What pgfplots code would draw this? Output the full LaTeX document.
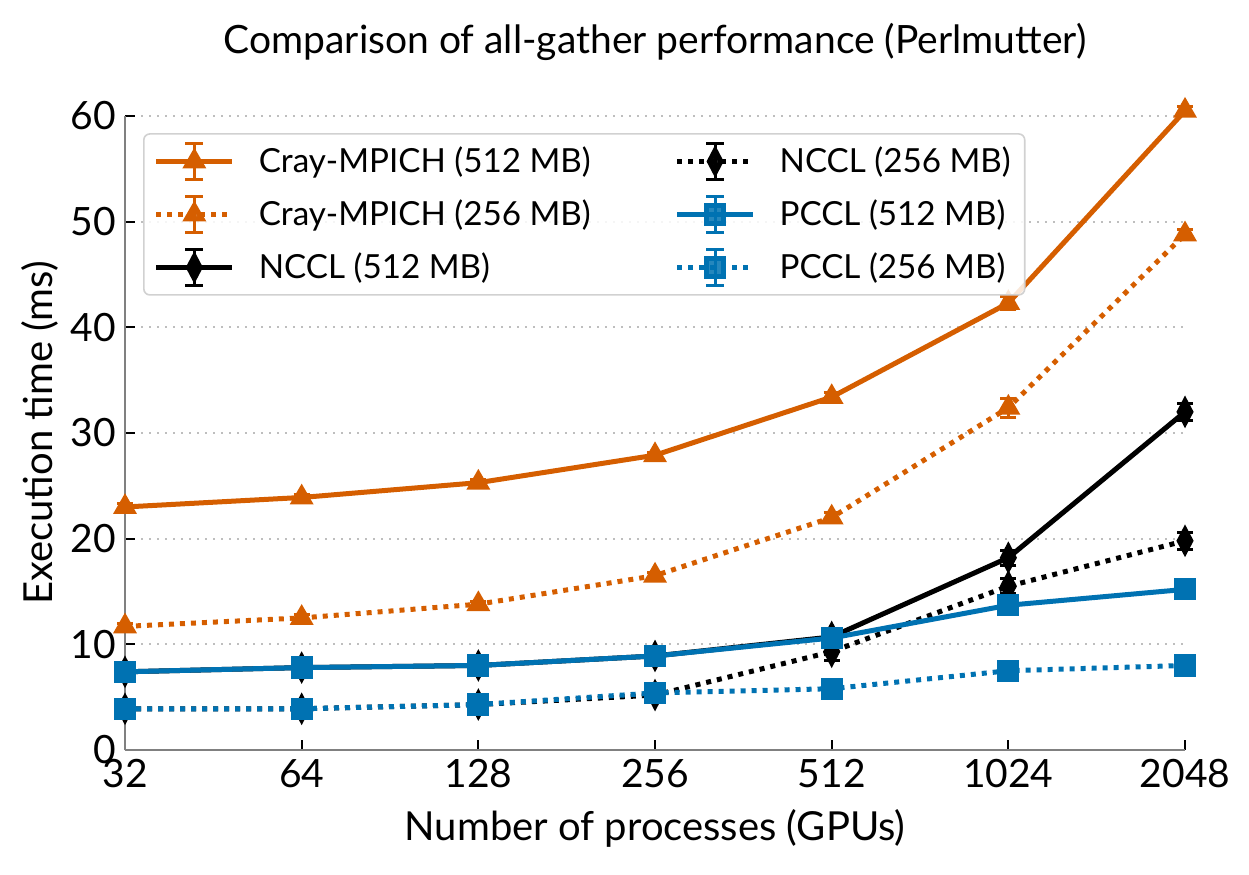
\documentclass[border=0pt]{standalone}
\usepackage{pgfplots}
\pgfplotsset{compat=1.18}
\usepackage{fontspec}
\setmainfont{Lato}
\definecolor{corange}{RGB}{213,94,0}
\definecolor{cblue}{RGB}{0,114,178}
\definecolor{cgrid}{RGB}{190,190,190}
\definecolor{cspine}{RGB}{128,128,128}
\begin{document}
\begin{tikzpicture}
\pgfplotsset{
  mylegend/.style={legend image code/.code={
    \draw[##1] (0pt,0pt) -- (38pt,0pt);
    \draw[solid,line width=1.5pt] (19pt,-9pt) -- (19pt,9pt) (14.5pt,-9pt) -- (23.5pt,-9pt) (14.5pt,9pt) -- (23.5pt,9pt);
    \draw[solid] plot coordinates {(19pt,0pt)};
  }},
  dots/.style={dash pattern=on 2.5pt off 3pt},
}
\begin{axis}[
  at={(0,0)}, anchor=south west,
  scale only axis, width=530pt, height=317pt,
  xmode=log, log basis x=2,
  xmin=32, xmax=2048, ymin=0, ymax=60,
  xtick={32,64,128,256,512,1024,2048},
  xticklabels={32,64,128,256,512,1024,2048},
  ytick={0,10,20,30,40,50,60},
  /pgf/number format/assume math mode=true,
  tick label style={font=\fontsize{19.5}{22}\selectfont, black},
  xticklabel style={yshift=-1pt},
  yticklabel style={xshift=-1pt},
  tick align=inside, major tick length=5pt,
  tick style={black, line width=1pt},
  axis x line*=bottom, axis y line*=left,
  axis line style={cspine, line width=1.2pt, -},
  ymajorgrids, grid style={cgrid, line width=1pt, dash pattern=on 1pt off 3pt},
  clip=false,
  title={Comparison of all-gather performance (Perlmutter)},
  title style={font=\fontsize{19.5}{22}\selectfont, at={(0.5,1)}, anchor=center, yshift=31pt},
  xlabel={Number of processes (GPUs)},
  ylabel={Execution time (ms)},
  label style={font=\fontsize{20}{23}\selectfont},
  xlabel style={at={(0.5,0)}, anchor=center, yshift=-39pt},
  ylabel style={at={(0,0.5)}, anchor=center, yshift=42.5pt},
  legend columns=3, transpose legend,
  legend style={at={(0.017,0.973)}, anchor=north west, font=\fontsize{16.6}{19}\selectfont,
    draw=cgrid!70, line width=0.8pt, rounded corners=3pt, fill=white, fill opacity=0.85, text opacity=1,
    inner xsep=5pt, inner ysep=4pt, row sep=7pt,
    /tikz/every odd column/.append style={column sep=10pt},
    /tikz/every even column/.append style={column sep=40pt}},
  legend cell align=left,
  mylegend,
  every axis plot/.append style={line width=2.5pt},
  error bars/error bar style={solid, line width=1.5pt},
  error bars/error mark options={rotate=90, mark size=4pt, line width=1.5pt, solid},
]
% Cray-MPICH 512
\addplot[corange, mark=triangle*, mark size=4.4pt, mark options={solid},
  error bars/.cd, y dir=both, y explicit] coordinates {
  (32,23.0) +- (0,0.3) (64,23.9) +- (0,0.3) (128,25.3) +- (0,0.3) (256,27.9) +- (0,0.3)
  (512,33.4) +- (0,0.4) (1024,42.3) +- (0,0.6) (2048,60.5) +- (0,0.4)};
\addlegendentry{Cray-MPICH (512 MB)}
% Cray-MPICH 256
\addplot[corange, dots, mark=triangle*, mark size=4.4pt, mark options={solid},
  error bars/.cd, y dir=both, y explicit] coordinates {
  (32,11.7) +- (0,0.3) (64,12.5) +- (0,0.3) (128,13.8) +- (0,0.3) (256,16.5) +- (0,0.3)
  (512,22.0) +- (0,0.5) (1024,32.4) +- (0,0.9) (2048,48.8) +- (0,0.5)};
\addlegendentry{Cray-MPICH (256 MB)}
% NCCL 512
\addplot[black, mark=diamond*, mark size=5.5pt, mark options={solid, xscale=0.7},
  error bars/.cd, y dir=both, y explicit] coordinates {
  (32,7.4) +- (0,0.7) (64,7.8) +- (0,0.8) (128,8.0) +- (0,0.7) (256,8.9) +- (0,0.7)
  (512,10.7) +- (0,0.8) (1024,18.2) +- (0,0.7) (2048,32.0) +- (0,0.8)};
\addlegendentry{NCCL (512 MB)}
% NCCL 256
\addplot[black, dots, mark=diamond*, mark size=5.5pt, mark options={solid, xscale=0.7},
  error bars/.cd, y dir=both, y explicit] coordinates {
  (32,3.9) +- (0,0.7) (64,3.9) +- (0,0.8) (128,4.3) +- (0,0.7) (256,5.2) +- (0,0.7)
  (512,9.3) +- (0,0.8) (1024,15.5) +- (0,0.7) (2048,19.8) +- (0,0.8)};
\addlegendentry{NCCL (256 MB)}
% PCCL 512
\addplot[cblue, mark=square*, mark size=4.3pt, mark options={solid},
  error bars/.cd, y dir=both, y explicit] coordinates {
  (32,7.4) +- (0,0.2) (64,7.8) +- (0,0.2) (128,8.0) +- (0,0.2) (256,8.9) +- (0,0.2)
  (512,10.6) +- (0,0.2) (1024,13.7) +- (0,0.2) (2048,15.2) +- (0,0.2)};
\addlegendentry{PCCL (512 MB)}
% PCCL 256
\addplot[cblue, dots, mark=square*, mark size=4.3pt, mark options={solid},
  error bars/.cd, y dir=both, y explicit] coordinates {
  (32,3.9) +- (0,0.2) (64,3.9) +- (0,0.2) (128,4.3) +- (0,0.2) (256,5.4) +- (0,0.2)
  (512,5.8) +- (0,0.2) (1024,7.5) +- (0,0.2) (2048,8.0) +- (0,0.2)};
\addlegendentry{PCCL (256 MB)}
\end{axis}
\path[use as bounding box] (-62.5pt,-62pt) rectangle (562pt,375pt);
\end{tikzpicture}
\end{document}
